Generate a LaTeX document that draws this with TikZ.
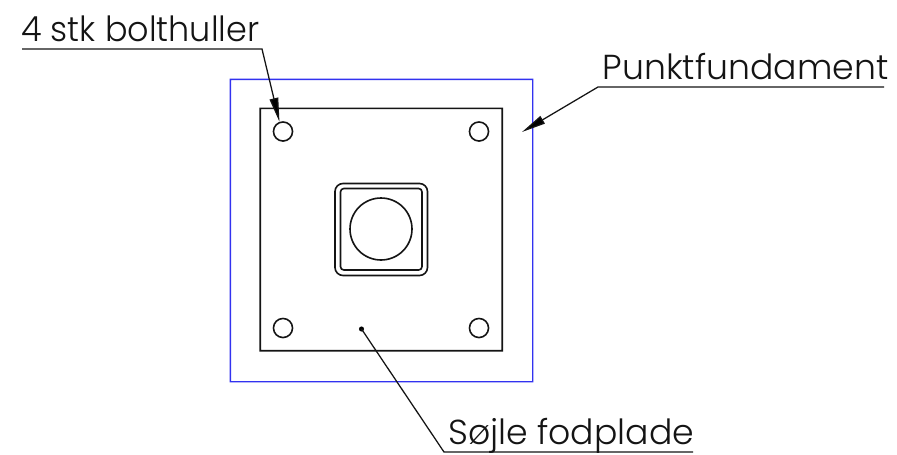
\documentclass[tikz,border=0pt]{standalone}
\usepackage{fontspec}
\setmainfont{Poppins Light}
\usetikzlibrary{arrows.meta}
\definecolor{fblue}{RGB}{50,50,240}
\definecolor{ink}{RGB}{20,20,20}
\tikzset{
  x=0.75pt,y=-0.75pt,
  blueoutline/.style={fill=fblue,even odd rule},
  plate/.style={fill=ink,even odd rule},
  thinpart/.style={draw=ink,line width=1.2pt},
  leader/.style={draw=ink,line width=0.95pt},
  leadarrow/.style={leader,-{Triangle[length=18pt,width=6.5pt,fill=black]}},
  lab/.style={anchor=base west,inner sep=0pt,text depth=0pt,text=ink,font=\fontsize{26}{30}\selectfont},
  hole/.style={circle,draw=ink,line width=1.2pt,minimum size=14.3pt,inner sep=0pt}
}
\begin{document}
\begin{tikzpicture}
\useasboundingbox (0,0) rectangle (897,454);
\fill[white] (0,0) rectangle (897,454);
\path[blueoutline] (229.7,78.7) rectangle (533.4,382.4) (231.1,80.1) rectangle (532,381);
\path[plate] (259.4,107.6) rectangle (503,351.5) (261,109.2) rectangle (501.4,349.9);
\node[hole] (h1) at (283,131.5) {};
\node[hole] (h2) at (479,131.5) {};
\node[hole] (h3) at (283,328) {};
\node[hole] (h4) at (479,328) {};
\draw[thinpart,rounded corners=6pt] (335,183.5) rectangle (427.5,275.5);
\draw[thinpart,rounded corners=2.5pt] (340.5,188.5) rectangle (422,270);
\node[circle,draw=ink,line width=1.2pt,minimum size=46.5pt,inner sep=0pt] (shaft) at (381,229) {};
% labels
\node[lab,xscale=0.965] (t1) at (21,41) {4 stk bolthuller};
\node[lab] (t2) at (602.5,79) {Punktfundament};
\node[lab] (t3) at (448,444.5) {Søjle fodplade};
% leader ends
\coordinate (a1) at (22,49);
\coordinate (k1) at (262,49);
\coordinate (a2) at (884,87);
\coordinate (k2) at (598,87);
\coordinate (a3) at (693,452);
\coordinate (k3) at (444,452);
\coordinate (e2) at (522,132);
\node[circle,fill=black,minimum size=3.8pt,inner sep=0pt] (d3) at (361.5,329) {};
\draw[leadarrow] (a1) -- (k1) -- (h1.110);
\draw[leadarrow] (a2) -- (k2) -- (e2);
\draw[leader] (a3) -- (k3) -- (d3.center);
\end{tikzpicture}
\end{document}
